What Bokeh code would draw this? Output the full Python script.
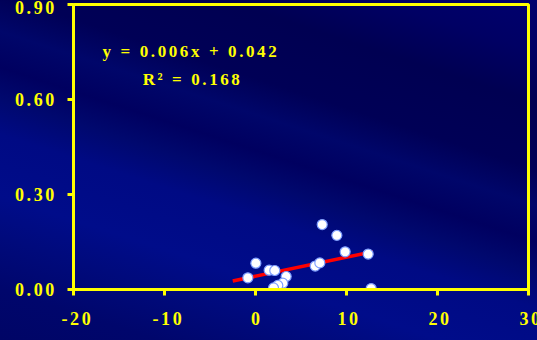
from bokeh.plotting import figure
from bokeh.models import FixedTicker, Label, Range1d
from bokeh.embed import file_html
from bokeh.resources import INLINE

# Observations
obs_x = [-0.84, 0.04, 1.50, 2.12, 3.37, 3.00, 2.45, 1.98,
         6.56, 7.07, 7.33, 8.94, 9.85, 12.38, 12.71]
obs_y = [0.037, 0.083, 0.061, 0.060, 0.041, 0.020, 0.013, 0.005,
         0.074, 0.084, 0.205, 0.171, 0.119, 0.112, 0.003]

# Least-squares trend line
fit_slope = 0.006
fit_intercept = 0.042
fit_x = [-2.5, 12.9]
fit_y = [fit_slope * x + fit_intercept for x in fit_x]

# Axis ticks and labels
x_ticks = [-20, -10, 0, 10, 20, 30]
x_tick_labels = ["-20", "-10", "0", "10", "20", "30"]
y_ticks = [0.0, 0.3, 0.6, 0.9]
y_tick_labels = ["0.00", "0.30", "0.60", "0.90"]

# Regression annotation
eq_text = "y = 0.006x + 0.042"
r2_text = "R\u00b2 = 0.168"

YELLOW = "#ffff00"
FONT = "Liberation Serif"

p = figure(
    width=537, height=340,
    x_range=Range1d(-20, 30), y_range=Range1d(0, 0.9),
    output_backend="svg", toolbar_location=None,
    min_border_left=73, min_border_right=9,
    min_border_top=4, min_border_bottom=51,
    background_fill_color=None, border_fill_color=None,
    outline_line_color=YELLOW, outline_line_width=3,
)
# banded navy backdrop; letter-spacing is inherited by the svg text
p.styles = {
    "background": "linear-gradient(198deg, #00006e 0%, #000064 10%, "
                  "#000052 20%, #000056 33%, #00066a 40%, #000060 47%, "
                  "#00086e 53%, #000a84 60%, #000c8a 72%, #000a7c 80%, "
                  "#00066c 90%, #000566 100%)",
    "letter-spacing": "2.6px",
}

p.grid.visible = False

for ax in (p.xaxis[0], p.yaxis[0]):
    ax.axis_line_color = YELLOW
    ax.axis_line_width = 3
    ax.major_tick_line_color = YELLOW
    ax.major_tick_line_width = 3
    ax.major_tick_in = 0
    ax.major_tick_out = 6
    ax.minor_tick_line_color = None
    ax.major_label_text_color = YELLOW
    ax.major_label_text_font = FONT
    ax.major_label_text_font_style = "bold"
    ax.major_label_text_font_size = "18px"

p.xaxis.ticker = FixedTicker(ticks=x_ticks)
p.yaxis.ticker = FixedTicker(ticks=y_ticks)
p.xaxis.major_label_overrides = dict(zip(x_ticks, x_tick_labels))
p.yaxis.major_label_overrides = dict(zip(y_ticks, y_tick_labels))
p.xaxis.major_label_standoff = 16
p.yaxis.major_label_standoff = 21

p.line(fit_x, fit_y, line_color="#ff0000", line_width=3.5)
p.scatter(obs_x, obs_y, size=10, fill_color="white",
          line_color="#7f9fff", line_width=1.2)

for txt, xpos, ypos in ((eq_text, -16.8, 0.753), (r2_text, -12.4, 0.664)):
    p.add_layout(Label(
        x=xpos, y=ypos, text=txt, text_align="left",
        text_baseline="alphabetic", text_font=FONT,
        text_font_style="bold", text_font_size="17px", text_color=YELLOW,
    ))

open("out.html", "w").write(file_html(p, INLINE))
